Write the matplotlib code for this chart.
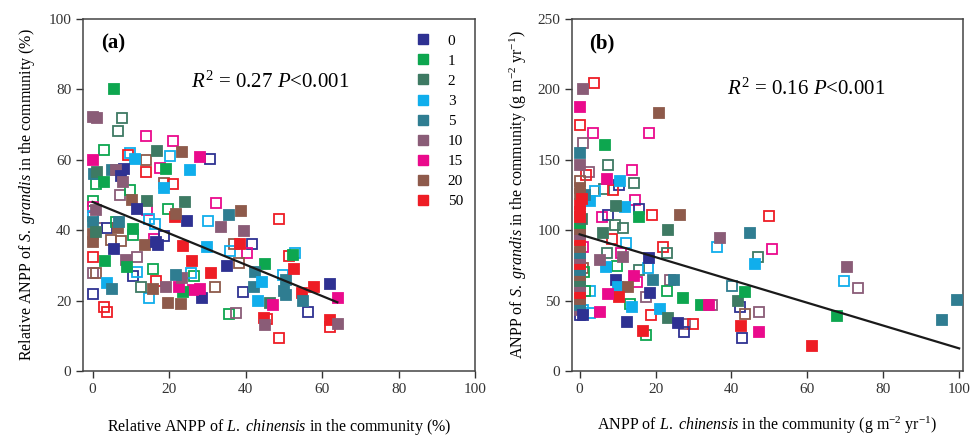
import matplotlib
matplotlib.use("Agg")
from matplotlib import pyplot as plt
from matplotlib.lines import Line2D

plt.rcParams['font.family'] = ['Liberation Serif', 'DejaVu Serif']
plt.rcParams['mathtext.fontset'] = 'custom'
plt.rcParams['mathtext.rm'] = 'Liberation Serif'
plt.rcParams['mathtext.it'] = 'Liberation Serif:italic'
plt.rcParams['mathtext.bf'] = 'Liberation Serif:bold'

groups = ['0', '1', '2', '3', '5', '10', '15', '20', '50']
colors = ['#2E3192', '#0DA64F', '#3E7A63', '#10AEEC', '#2F7D91',
          '#8A5C77', '#EA0A8C', '#8E5A4B', '#EE1D25']

# panel (a): relative ANPP, x = L. chinensis, y = S. grandis, group, filled (1) / open (0)
a_x = [5.7, 0.2, 1.2, 7.7, 6.6, 14.1, 21, 3, 16.9, 23.4, 9.9, 20.3, 9.2, 11.2, 14.1, 28.2, 30.6, 0,
       19.2, 17.6, 25.4, 14, 8.3, 5.1, 6, 7.5, 0.3, 1.2, 3.1, 0.8, 8, 18.6, 18.8, 21, 7.3, 9.7,
       10.2, 14.3, 24.1, 32.3, 11.6, 14.3, 38.8, 35.7, 0, 0.8, 0,
       48.7, 24.6, 30.2, 19.6, 21.5, 21.8, 33.5, 39.7, 17.2, 23.7, 13.7, 29.8, 5.5, 38.5, 37, 41.7,
       35.9, 40.4, 26.1, 16.5, 16, 8.7, 9.1, 11.7, 10.5, 11.5, 3.2, 4.8, 35.2, 31, 38.4, 45, 42.6,
       49.8, 50.7, 52.6, 51.4, 52.4, 53, 42.3, 44.3, 43.2, 28.7, 28, 26.3, 23.7, 22.6, 23.5, 21.7,
       26.5, 25.7, 19.8, 23, 19.1, 14.8, 15.7, 16.5, 15.8, 12.6, 32.1, 3.9, 5.2, 0, 3, 3.9, 35.7,
       37.6, 39.4, 46.5, 47.2, 44.8, 45.1, 45.7, 48.7, 54.8, 57.8, 55, 56.3, 62.2, 64.2, 62.2, 62.2,
       64.3, 50, 50.5,
       0, 1, 0, 0, 0, 0, 1.2, 3.7, 6.7, 6, 7, 10.7, 10.7, 14.8, 16.3, 18.7, 7.5, 1, 0]
a_y = [80, 72.2, 71.9, 71.9, 68.2, 66.6, 65.3, 62.9, 62.5, 62.2, 62, 61, 61.2, 60.3, 59.8, 60.9, 60.3, 60,
       57.4, 57.7, 57.2, 56.5, 57.4, 57, 57, 55.5, 56, 56.5, 53.6, 53.2, 53.6, 53.3, 52.1, 53.2, 50.1, 51.4,
       48.5, 48.3, 48, 47.6, 46, 45.7, 45.4, 44.3, 48.3, 45.7, 46.6,
       43.3, 42.7, 42.7, 45.9, 43.8, 44.5, 40.8, 39.8, 35.8, 35.5, 35.8, 35.2, 34.5, 36, 36, 36,
       34.2, 33.6, 31.2, 36.5, 37.5, 31.5, 29.6, 32.3, 27, 28, 31.3, 37.2, 29.8, 27.9, 30.7, 30.3, 28.2,
       27.2, 25.8, 28.9, 32.6, 32.9, 33.6, 23.9, 25.4, 19.9, 20.6, 23.2, 23, 22.5, 23.7, 26.3, 27.2,
       27, 27.9, 19.2, 19, 23.7, 20.6, 23.2, 25.6, 28.9, 23.7, 23.7, 24.9, 23.2, 21.9, 18.3, 16.8, 16.2,
       16.4, 22.5, 19.4, 18.7, 15, 13.1, 14.8, 9.3, 22.2, 23.7, 19.9, 16.8, 24.7, 20.8, 14.5, 12.6,
       13.3, 22.8, 21.5,
       27.7, 27.7, 32.4, 36.7, 39, 42.4, 40.5, 40.5, 40.5, 42.4, 42.4, 40.2, 38.6, 43.3, 41.8, 38.3, 37, 39.5, 44]
a_grp = ['1', '10', '10', '2', '2', '15', '15', '1', '2', '20', '3', '3', '50', '3', '20', '15', '0', '15',
         '1', '15', '3', '50', '0', '5', '10', '0', '5', '2', '1', '1', '10', '20', '3', '50', '10', '1',
         '20', '2', '2', '15', '0', '15', '20', '5', '1', '10', '15',
         '50', '0', '3', '1', '50', '20', '10', '10', '0', '50', '20', '3', '0', '50', '20', '0',
         '3', '15', '50', '0', '15', '10', '1', '10', '0', '3', '1', '20', '0', '50', '20', '1', '5',
         '3', '5', '50', '50', '1', '3', '5', '3', '3', '0', '15', '15', '1', '15', '10', '5',
         '1', '3', '20', '20', '10', '3', '20', '50', '1', '2', '20', '3', '5', '0', '50', '50', '1',
         '10', '0', '2', '15', '50', '10', '50', '50', '50', '50', '5', '0', '0', '15', '50', '50',
         '10', '5', '5',
         '10', '20', '50', '20', '20', '5', '10', '0', '20', '1', '5', '1', '1', '3', '3', '0', '20', '2', '3']
a_fill = [1, 1, 1, 0, 0, 0, 0, 0, 1, 1, 0, 0, 0, 1, 0, 1, 0, 1,
          1, 0, 1, 0, 1, 1, 1, 1, 1, 1, 1, 0, 1, 0, 1, 0, 0, 0,
          1, 1, 1, 0, 1, 0, 1, 1, 0, 1, 0,
          0, 1, 0, 0, 1, 1, 1, 1, 1, 1, 1, 1, 1, 1, 0, 0,
          0, 0, 1, 1, 0, 1, 1, 0, 0, 0, 1, 0, 1, 1, 0, 1, 1,
          0, 1, 1, 0, 1, 0, 1, 1, 1, 1, 1, 1, 1, 1, 1, 1,
          0, 0, 1, 1, 1, 0, 1, 0, 0, 0, 0, 1, 1, 0, 0, 0, 0,
          0, 0, 1, 1, 1, 1, 0, 0, 1, 1, 1, 0, 1, 1, 1, 0,
          1, 1, 1,
          0, 0, 0, 1, 1, 1, 0, 0, 1, 0, 1, 1, 0, 0, 0, 0, 0, 1, 0]
a_fit_x = [0, 64]
a_fit_y = [48, 19.5]

# panel (b): ANPP (g m-2 yr-1)
b_x = [3.8, 0.9, 0, 0, 3.5, 21, 18.3, 6.7, 0.9, 0, 0, 7.6, 2.6, 1.7, 7.2, 13.7, 14.3, 10.7, 0,
       10.5, 6.3, 8.7, 4.1, 0, 2.8, 1.5, 14.6, 15.7, 12, 9.6, 0.2, 0, 0,
       19.2, 26.4, 49.8, 15.7, 5.9, 7.6, 23.3, 45, 36.9, 36.2, 50.8, 22, 22.9, 12.1, 6.1, 8.5, 9.4,
       11.3, 18.3, 46.9, 46.3, 70.5, 69.6, 73.3, 40.2, 41.7, 43.6, 42.3, 43.7, 47.2, 42.5, 47.3,
       42.9, 67.9, 61.3, 95.4, 99.3, 7.2, 7, 5.5, 9.8, 11.4, 11, 9.6, 10.2, 14.2, 15, 15.7, 18.1,
       19.4, 23.9, 24.9, 23.1, 27.2, 32, 34, 34.8, 21.1, 23.3, 25.9, 27.7, 29.9, 27.4, 16.6, 17.6,
       18.8, 12.4, 13.4, 13.9, 18.5, 17.4, 12.8, 10.5, 7.4, 5.4, 2.8, 2.8, 1.5,
       0, 0, 0, 0, 0, 0, 0, 0, 0, 0, 0, 0, 0, 0, 0, 0, 0, 0.5, 0,
       1, 1, 1, 1, 1.2, 0.5]
b_y = [204.8, 200, 187.6, 174.5, 169, 183.3, 169, 160.7, 162, 154.8, 146, 146, 141, 138.8, 136.4, 142.4, 133.3, 135.2, 135,
       131.7, 129.3, 128.6, 127.6, 130, 121, 125, 121.4, 115, 116.7, 117.4, 118.6, 125.7, 113,
       110.6, 110.6, 110.2, 109.5, 109.5, 110.6, 100, 97.6, 94.6, 88.2, 86.5, 88.2, 83.9, 90.5, 98.3, 93.4, 103.5,
       101.6, 79.9, 80.6, 75.9, 74, 64, 58.6, 60.5, 49.9, 56.3, 45.6, 40.4, 42, 31.9, 27.9,
       23.6, 39.2, 18, 36.2, 50.4, 83.5, 74, 79, 74.7, 80.6, 84, 64.5, 59.3, 67.4, 63, 71.6, 72.8,
       64.5, 64.5, 64.5, 57, 51.5, 46.8, 46.8, 46.8, 43.7, 37.4, 34.3, 33.3, 33.3, 27.9, 28.6, 25.5,
       39.7, 35, 47.5, 45.6, 55.6, 52.7, 59.3, 52.2, 54.6, 42, 40.9, 57, 57,
       40, 43, 47, 51, 55, 60, 64, 68, 72, 76, 80, 84, 88, 93, 97, 101, 105, 108, 109,
       43, 39.5, 88, 73, 70, 122]
b_grp = ['50', '10', '15', '50', '15', '20', '15', '1', '10', '5', '10', '2', '10', '50', '15', '15', '2', '3', '20',
         '0', '2', '50', '3', '20', '3', '5', '15', '0', '3', '2', '50', '20', '50',
         '50', '20', '50', '1', '15', '0', '2', '5', '10', '3', '15', '50', '2', '3', '2', '50', '2',
         '2', '0', '2', '3', '10', '3', '10', '5', '2', '1', '0', '20', '10', '50', '15',
         '0', '1', '50', '5', '5', '2', '3', '10', '1', '10', '15', '0', '3', '15', '15', '2', '3',
         '5', '10', '5', '1', '1', '1', '15', '10', '3', '2', '0', '10', '50', '0', '50', '1',
         '50', '0', '1', '3', '0', '10', '20', '50', '15', '15', '3', '3', '1',
         '0', '10', '5', '20', '50', '10', '2', '20', '5', '50', '10', '5', '20', '50', '10', '20', '1', '2', '50',
         '3', '0', '15', '20', '1', '50']
b_fill = [0, 1, 1, 0, 0, 1, 0, 1, 0, 1, 1, 0, 0, 0, 1, 0, 0, 1, 0,
          0, 0, 0, 0, 1, 1, 1, 0, 0, 1, 1, 1, 1, 1,
          0, 1, 0, 1, 0, 0, 1, 1, 1, 0, 0, 0, 0, 0, 1, 0, 0,
          0, 1, 0, 1, 1, 0, 0, 0, 1, 1, 0, 0, 0, 1, 1,
          0, 1, 1, 1, 1, 0, 1, 1, 0, 1, 0, 1, 1, 1, 0, 0, 0,
          1, 0, 1, 0, 1, 1, 1, 0, 1, 1, 1, 0, 0, 0, 1, 0,
          0, 1, 0, 1, 1, 0, 1, 1, 1, 1, 0, 0, 0,
          0, 1, 1, 1, 1, 1, 1, 1, 1, 1, 1, 1, 1, 1, 1, 1, 1, 1, 1,
          0, 1, 0, 0, 0, 1]
b_fit_x = [0, 100]
b_fit_y = [97, 16]

fig = plt.figure(figsize=(9.72, 4.4), dpi=100)
ax1 = fig.add_axes([0.0854, 0.157, 0.4033, 0.800])
ax2 = fig.add_axes([0.5885, 0.157, 0.4022, 0.800])


def draw(ax, xs, ys, gs, fs, fx, fy):
    # open squares first, filled on top
    for filled in (0, 1):
        for x, y, g, f in zip(xs, ys, gs, fs):
            if f != filled:
                continue
            c = colors[groups.index(g)]
            ax.plot(x, y, 's', ms=6.6, mec=c, mfc=c if f else 'none', mew=1.3,
                    clip_on=False, zorder=3)
    ax.plot(fx, fy, '-', color='#1a1a1a', lw=1.6, zorder=4)
    for s in ax.spines.values():
        s.set_color('#444444')
        s.set_linewidth(1.1)
    ax.tick_params(direction='out', length=5, width=1, colors='#333333',
                   labelsize=11, top=False, right=False)


draw(ax1, a_x, a_y, a_grp, a_fill, a_fit_x, a_fit_y)
draw(ax2, b_x, b_y, b_grp, b_fill, b_fit_x, b_fit_y)

ax1.set_xlim(-2.5, 100)
ax1.set_ylim(0, 100)
ax1.set_xticks([0, 20, 40, 60, 80, 100])
ax1.set_yticks([0, 20, 40, 60, 80, 100])
ax2.set_xlim(-2, 101)
ax2.set_ylim(0, 250)
ax2.set_xticks([0, 20, 40, 60, 80, 100])
ax2.set_yticks([0, 50, 100, 150, 200, 250])

ax1.set_xlabel('Relative ANPP of $\\it{L.\\ chinensis}$ in the community (%)', fontsize=11.5, labelpad=15)
ax1.set_ylabel('Relative ANPP of $\\it{S.\\ grandis}$ in the community (%)', fontsize=11.5, labelpad=8)
ax2.set_xlabel('ANPP of $\\it{L.\\ chinensis}$ in the community (g m$^{-2}$ yr$^{-1}$)', fontsize=11.5, labelpad=14)
ax2.set_ylabel('ANPP of $\\it{S.\\ grandis}$ in the community (g m$^{-2}$ yr$^{-1}$)', fontsize=11.5, labelpad=6)

ax1.text(0.077, 0.93, '(a)', transform=ax1.transAxes, fontsize=15, fontweight='bold',
         ha='center', va='center')
ax2.text(0.077, 0.93, '(b)', transform=ax2.transAxes, fontsize=15, fontweight='bold',
         ha='center', va='center')
ax1.text(0.477, 0.82, '$R^2$ = 0.27 $P$<0.001', transform=ax1.transAxes, fontsize=15,
         ha='center', va='center')
ax2.text(0.60, 0.80, '$R^2$ = 0.16 $P$<0.001', transform=ax2.transAxes, fontsize=15,
         ha='center', va='center')

handles = [Line2D([], [], ls='none', marker='s', ms=7, mfc=c, mec=c) for c in colors]
ax1.legend(handles, groups, loc='upper right', bbox_to_anchor=(0.985, 0.975), frameon=False,
           fontsize=11, labelspacing=0.42, handletextpad=1.0, handlelength=1.2, borderaxespad=0)

plt.savefig('out.png', dpi=100)
